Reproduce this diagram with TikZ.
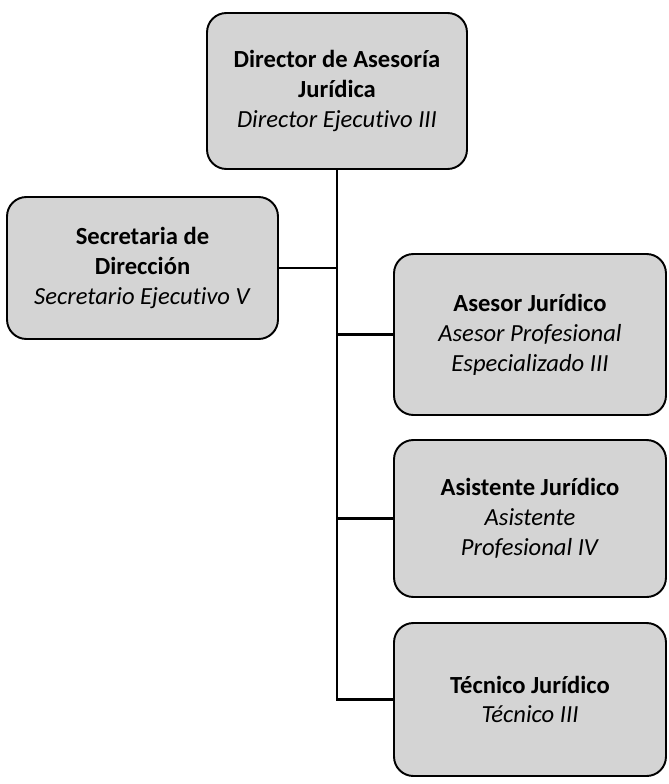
\documentclass[tikz,border=0pt]{standalone}
\usepackage{fontspec}
\setmainfont[Ligatures=NoCommon]{Carlito}
\usetikzlibrary{calc}

\tikzset{cargo/.style={draw=black, line width=1.1pt, rounded corners=11pt,
    fill=black!17, align=center, inner sep=2pt,
    font=\fontsize{14}{17}\selectfont}}
\tikzset{linea/.style={draw=black, line width=1.4pt}}

\begin{document}
\begin{tikzpicture}[x=0.02cm,y=-0.02cm]
    \useasboundingbox (0,0) rectangle (669,784);
    \node[cargo, minimum width=5.2cm, minimum height=3.12cm] (dir) at (337,91)
        {\textbf{Director de Asesoría}\\\textbf{Jurídica}\\\textit{Director Ejecutivo III}};
    \node[cargo, minimum width=5.42cm, minimum height=2.84cm] (sec) at (142.5,268)
        {\textbf{Secretaria de}\\\textbf{Dirección}\\\textit{Secretario Ejecutivo V}};
    \node[cargo, minimum width=5.44cm, minimum height=3.22cm] (ase) at (530,334.5)
        {\textbf{Asesor Jurídico}\\\textit{Asesor Profesional}\\\textit{Especializado III}};
    \node[cargo, minimum width=5.44cm, minimum height=3.14cm] (asi) at (530,518.5)
        {\textbf{Asistente Jurídico}\\\textit{Asistente}\\\textit{Profesional IV}};
    \node[cargo, minimum width=5.44cm, minimum height=3.06cm] (tec) at (530,699.5)
        {\textbf{Técnico Jurídico}\\\textit{Técnico III}};
    % conectores
    \draw[linea] (dir.south) -- (dir.south |- tec.west) -- (tec.west);
    \draw[linea] (sec.east) -- (sec.east -| dir.south);
    \draw[linea] (ase.west) -- (ase.west -| dir.south);
    \draw[linea] (asi.west) -- (asi.west -| dir.south);
\end{tikzpicture}
\end{document}
